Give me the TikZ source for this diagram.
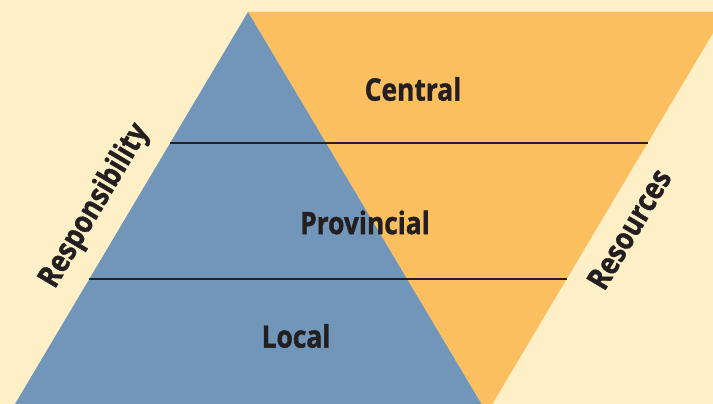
\documentclass[tikz,border=0pt]{standalone}
\usepackage{fontspec}
\newfontfamily\lblfont[FakeStretch=0.85,FakeBold=1.2]{Open Sans Bold}
\definecolor{bgcream}{HTML}{FEEFC7}
\definecolor{pyrblue}{HTML}{7196BA}
\definecolor{pyrorange}{HTML}{FCBF5F}
\definecolor{inkdark}{HTML}{231F20}
\tikzset{
  lvl/.style={font=\lblfont\fontsize{31}{31}\selectfont, text=inkdark, inner sep=0pt},
  side/.style={font=\lblfont\fontsize{31}{31}\selectfont, text=inkdark, inner sep=0pt, rotate=59.3},
  tier/.style={draw=inkdark, line width=2.2pt}
}
\begin{document}
\begin{tikzpicture}[x=1pt,y=-1pt]
  \fill[bgcream] (0,0) rectangle (713,404);
  \useasboundingbox (0,0) rectangle (713,404);
  % corner coordinates
  \coordinate (apex) at (248,12);
  \coordinate (bl) at (15,404);
  \coordinate (br) at (481.5,404);
  \coordinate (otr) at (725.5,12);
  \coordinate (obot) at (487,413);
  \begin{scope}
    \clip (0,0) rectangle (713,404);
    \fill[pyrorange] (apex) -- (otr) -- (obot) -- cycle;
    \fill[pyrblue] (apex) -- (br) -- (bl) -- cycle;
  \end{scope}
  % tier lines
  \coordinate (l1a) at (170,143);
  \coordinate (l1b) at (647.6,143);
  \coordinate (l2a) at (89,279);
  \coordinate (l2b) at (566.6,279);
  \draw[tier] (l1a) -- (l1b);
  \draw[tier] (l2a) -- (l2b);
  % labels
  \node[lvl] (central) at (413,89) {Central};
  \node[lvl] (provincial) at (365,222.5) {Provincial};
  \node[lvl] (local) at (296,336) {Local};
  \node[side] (resp) at (95,206) {Responsibility};
  \node[side] (res) at (629,229) {Resources};
\end{tikzpicture}
\end{document}
